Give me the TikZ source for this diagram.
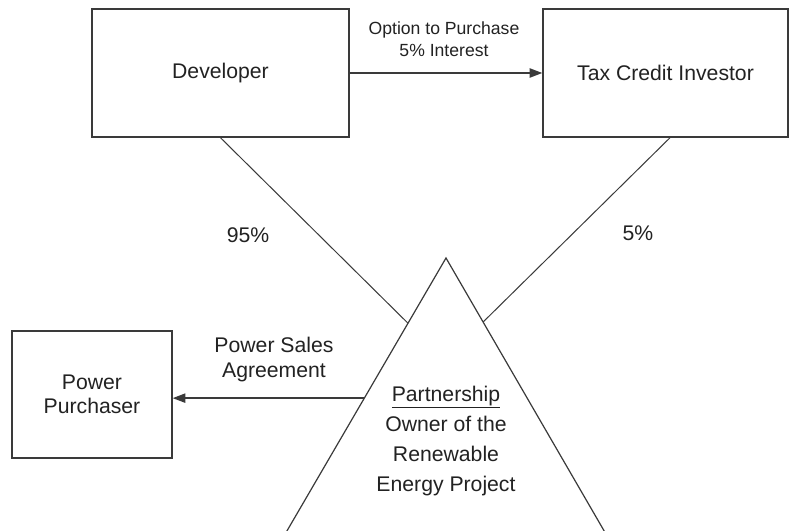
\documentclass[tikz,border=0pt]{standalone}
\usepackage{fontspec}
\setmainfont{Liberation Sans}
\usetikzlibrary{positioning,arrows.meta,calc}
\definecolor{ink}{HTML}{222222}
\definecolor{edge}{HTML}{3A3A3A}

\begin{document}
\begin{tikzpicture}[
  x=0.75pt,y=-0.75pt,
  font=\fontsize{15.9}{18.5}\selectfont,
  >={Triangle[length=9.5pt,width=7pt]},
  party/.style={draw=edge,line width=1.1pt,text=ink,align=center,inner sep=0pt},
  link/.style={draw=edge,line width=0.75pt},
  flow/.style={->,draw=edge,line width=1pt},
  lbl/.style={text=ink,align=center,inner sep=0pt},
  small/.style={font=\fontsize{13.2}{16.5}\selectfont},
]
\clip (0,0) rectangle (789,531);
\fill[white] (0,0) rectangle (789,531);

%================================================================ PARTIES ===
\node[party,minimum width={257*0.75pt},minimum height={128*0.75pt}] (dev) at (220.5,73) {Developer};
\node[party,minimum width={245*0.75pt},minimum height={128*0.75pt}] (tci) at (665.5,73) {Tax Credit Investor};
\node[party,minimum width={160*0.75pt},minimum height={127*0.75pt},
      font=\fontsize{15.9}{18}\selectfont] (pp) at (92,394.5) {Power\\Purchaser};

%============================================================ PARTNERSHIP ===
\coordinate (apex) at (446,258);
\coordinate (bl)   at (270,560);
\coordinate (br)   at (621,560);
\draw[link,line width=0.9pt] (bl) -- (apex) -- (br);

\coordinate (tl)  at ($(apex)!0.216!(bl)$);
\coordinate (tr)  at ($(apex)!0.212!(br)$);
\coordinate (psa) at ($(apex)!0.464!(bl)$);

\node[lbl,font=\fontsize{15.9}{22.5}\selectfont] (proj) at (446,441)
  {\underline{Partnership}\\Owner of the\\Renewable\\Energy Project};

% ownership shares
\draw[link] (dev.south) -- (tl);
\draw[link] ($(tci.south)+(4.5,0)$) -- (tr);
\node[lbl] (share95) at (248,235) {95\%};
\node[lbl] (share5)  at (638,233) {5\%};

%================================================================== FLOWS ===
\draw[flow] (dev) -- (tci);
\node[lbl,small] (opt) at (444,39) {Option to Purchase\\5\% Interest};

\draw[flow] (psa) -- (pp.east |- psa);
\node[lbl] (psal) at (274,359.5) {Power Sales\\Agreement};

\end{tikzpicture}
\end{document}
